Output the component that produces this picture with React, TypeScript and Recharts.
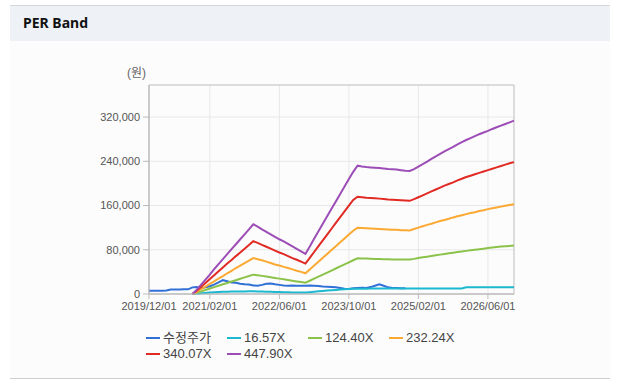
import React from 'react';
import {
  LineChart,
  Line,
  XAxis,
  YAxis,
  CartesianGrid,
  ReferenceArea,
} from 'recharts';

// month index 0 = 2019/12, last = 2026/12
const lastMonth = 84;
const tickMonths = [0, 14, 30, 46, 62, 78];
const tickLabels = ['2019/12/01', '2021/02/01', '2022/06/01', '2023/10/01', '2025/02/01', '2026/06/01'];
const yTicks = [0, 80000, 160000, 240000, 320000];

// 수정주가 from month 0
const price = [
  6000, 6000, 5800, 6000, 6200, 8200, 8300, 8200, 8400, 8500,
  12000, 12500, 10500, 12000, 14000, 17000, 21000, 25000, 23000, 21000,
  20500, 18500, 17500, 17000, 15500, 15000, 16500, 18500, 19000, 17500,
  16500, 15500, 15000, 15500, 15000, 14800, 15000, 15200, 14800, 14500,
  13500, 13000, 12500, 12000, 11000, 9500, 9000, 10500, 11000, 11500,
  11000, 12500, 15000, 17500, 15000, 12000, 11000, 10800, 10500, 10500,
];

// PER bands start at month 10
const bandStart = 10;
const per1657 = [
  0, 500, 1200, 2000, 2800, 3300, 3700, 4000, 4200, 4400,
  4500, 4600, 4700, 4800, 4800, 4600, 4400, 4200, 4000, 3700,
  3400, 3200, 3000, 2800, 2700, 2600, 2700, 3300, 4000, 4800,
  5500, 6200, 6800, 7400, 8000, 8500, 8900, 9300, 9600, 9700,
  9700, 9800, 9800, 9800, 9800, 9800, 9800, 9900, 9900, 9900,
  9900, 9900, 10000, 10000, 10000, 10000, 10000, 10000, 10000, 10000,
  10000, 10000, 10000, 12300, 12300, 12300, 12300, 12300, 12300, 12300,
  12300, 12300, 12300, 12300, 12300,
];
const per12440 = [
  0, 2200, 4800, 7300, 10000, 12500, 15000, 17500, 20000, 22500,
  25000, 27500, 30000, 32500, 35000, 34000, 32800, 31500, 30300, 29000,
  27800, 26500, 25300, 24000, 22800, 21600, 20500, 24000, 27700, 31300,
  35000, 38700, 42400, 46100, 49800, 53500, 57200, 61000, 64500, 64300,
  64000, 63800, 63500, 63300, 63000, 62800, 62600, 62500, 62400, 62300,
  62200, 63500, 65000, 66300, 67500, 68800, 70000, 71200, 72400, 73600,
  74800, 76000, 77000, 78000, 79000, 80000, 81000, 82000, 83000, 84000,
  85000, 85700, 86400, 87000, 87600,
];
const per23224 = [
  0, 4000, 9000, 13500, 18500, 23000, 28000, 32500, 37500, 42000,
  47000, 51500, 56000, 60500, 65000, 63000, 61000, 58500, 56000, 53500,
  51500, 49000, 47000, 44500, 42000, 40000, 37500, 44500, 51500, 58500,
  65500, 72500, 79500, 86500, 93500, 100500, 107500, 114500, 120000, 119500,
  119000, 118500, 118000, 117500, 117000, 116500, 116000, 116000, 115500, 115500,
  115000, 117500, 120000, 122500, 125000, 127000, 129500, 132000, 134000, 136000,
  138500, 140500, 142500, 144500, 146500, 148000, 150000, 151500, 153500, 155000,
  156500, 158000, 159500, 161000, 162500,
];
const per34007 = [
  0, 6000, 13000, 20000, 27000, 34000, 41000, 48000, 55000, 61500,
  68500, 75000, 82000, 88500, 95500, 92500, 89000, 85500, 82000, 78500,
  75000, 72000, 68500, 65000, 62000, 58500, 55000, 65500, 76000, 86500,
  97000, 107500, 118000, 128500, 139000, 149500, 160000, 170000, 176000, 175000,
  174000, 173500, 173000, 172500, 172000, 171000, 170500, 170000, 169500, 169000,
  168500, 171500, 175000, 178500, 182000, 185500, 189000, 192500, 196000, 199000,
  202000, 205500, 208500, 211500, 214000, 216500, 219000, 221500, 224000, 226500,
  229000, 231500, 234000, 236500, 238500,
];
const per44790 = [
  0, 8000, 17000, 26000, 35000, 45000, 54000, 63000, 72000, 81000,
  90000, 99000, 108000, 117000, 126000, 122000, 117000, 112500, 108000, 103500,
  99000, 95000, 90500, 86000, 81500, 77000, 72500, 86000, 100000, 113500,
  127000, 140500, 154000, 167500, 181000, 194500, 208000, 221000, 232000, 230500,
  229500, 229000, 228500, 228000, 227000, 226000, 225500, 225000, 224000, 223000,
  222500, 226000, 230500, 235000, 239500, 244500, 249000, 253500, 258000, 262000,
  266000, 270500, 274500, 278500, 282000, 285500, 289000, 292000, 295000, 298500,
  301500, 304500, 307500, 310500, 313500,
];

const series = [
  { key: 'price', name: '수정주가', color: '#3170d6' },
  { key: 'p1', name: '16.57X', color: '#1cb8cf' },
  { key: 'p2', name: '124.40X', color: '#8bc34a' },
  { key: 'p3', name: '232.24X', color: '#fba932' },
  { key: 'p4', name: '340.07X', color: '#e12a24' },
  { key: 'p5', name: '447.90X', color: '#9c4db6' },
];

const data: Record<string, number | null>[] = [];
for (let m = 0; m <= lastMonth; m++) {
  const b = m - bandStart;
  data.push({
    m,
    price: m < price.length ? price[m] : null,
    p1: b >= 0 ? per1657[b] : null,
    p2: b >= 0 ? per12440[b] : null,
    p3: b >= 0 ? per23224[b] : null,
    p4: b >= 0 ? per34007[b] : null,
    p5: b >= 0 ? per44790[b] : null,
  });
}

const font = "'Liberation Sans', Arial, 'Noto Sans CJK KR', sans-serif";
const tickStyle = { fontSize: 11, fill: '#555', fontFamily: font };

export default function App() {
  return (
    <div style={{ position: 'absolute', left: 0, top: 0, width: 626, height: 384, background: '#fff', fontFamily: font }}>
      <div style={{ position: 'absolute', left: 10, top: 5, width: 600, height: 36, background: '#eef2f7', borderTop: '1px solid #d3d6db', boxSizing: 'border-box' }}>
        <span style={{ position: 'absolute', left: 13, top: 8, fontSize: 14, fontWeight: 700, color: '#111', fontFamily: "'Noto Sans', sans-serif", lineHeight: '18px' }}>
          PER Band
        </span>
      </div>
      <div style={{ position: 'absolute', left: 10, top: 41, width: 600, height: 337, background: '#fcfcfc', borderBottom: '1px solid #cfcfcf' }} />
      <div style={{ position: 'absolute', left: 127, top: 65, fontSize: 12, color: '#666', lineHeight: '16px' }}>(원)</div>
      <div style={{ position: 'absolute', left: 0, top: 0 }}>
        <LineChart width={626} height={384} data={data} margin={{ top: 85, right: 112, bottom: 60, left: 0 }}>
          <CartesianGrid stroke='#e8e8e8' horizontalValues={yTicks} verticalValues={tickMonths} />
          <XAxis
            type='number'
            dataKey='m'
            domain={[0, lastMonth]}
            ticks={tickMonths}
            tickFormatter={(v: number) => tickLabels[tickMonths.indexOf(v)] ?? ''}
            tick={tickStyle}
            tickSize={5}
            tickMargin={3}
            height={30}
            stroke='#bbb'
            interval={0}
          />
          <YAxis
            domain={[0, 378000]}
            ticks={yTicks}
            tickFormatter={(v: number) => v.toLocaleString('en-US')}
            tick={tickStyle}
            tickSize={6}
            tickMargin={3}
            width={149}
            stroke='#bbb'
            interval={0}
          />
          <ReferenceArea x1={0} x2={lastMonth} y1={0} y2={378000} fill='none' stroke='#bdbdbd' strokeWidth={1} />
          {series.map((s) => (
            <Line
              key={s.key}
              type='linear'
              dataKey={s.key}
              name={s.name}
              stroke={s.color}
              strokeWidth={2}
              dot={false}
              isAnimationActive={false}
            />
          ))}
        </LineChart>
      </div>
      <div style={{ position: 'absolute', left: 146, top: 330, width: 330, display: 'flex', flexWrap: 'wrap' }}>
        {series.map((s) => (
          <div key={s.key} style={{ width: 81, height: 16, display: 'flex', alignItems: 'center' }}>
            <span style={{ display: 'inline-block', width: 14, height: 2, background: s.color, marginRight: 3 }} />
            <span style={{ fontSize: 13, color: '#444', lineHeight: '16px' }}>{s.name}</span>
          </div>
        ))}
      </div>
    </div>
  );
}
